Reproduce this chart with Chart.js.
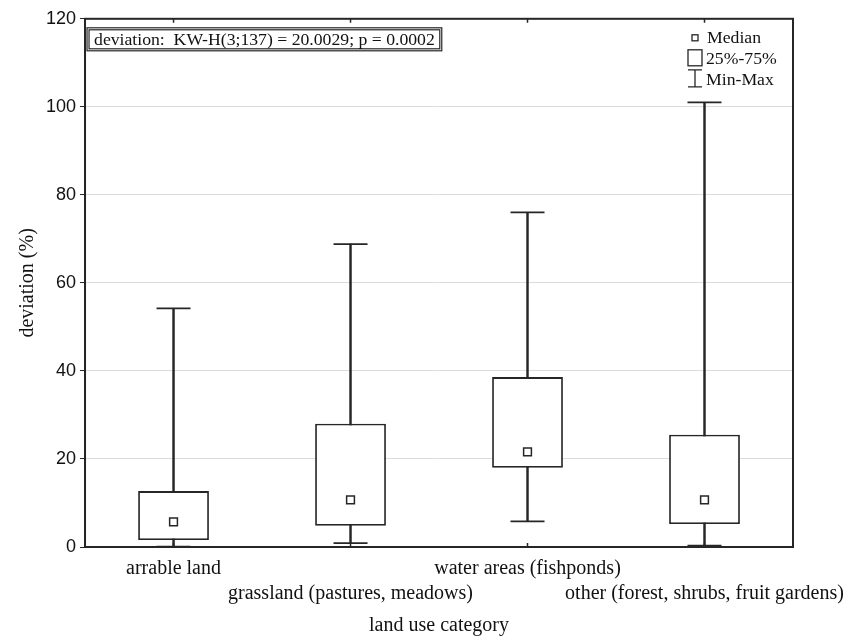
<!DOCTYPE html>
<html>
<head>
<meta charset="utf-8">
<script src="https://cdn.jsdelivr.net/npm/chart.js@4"></script>
<style>
  body { margin: 0; background: #fff; }
</style>
</head>
<body>
<canvas id="boxChart" width="848" height="638"></canvas>
<script>
// categories (odd ones dropped to a second line like in the original)
var categories = ['arrable land', 'grassland (pastures, meadows)', 'water areas (fishponds)', 'other (forest, shrubs, fruit gardens)'];
var minValues = [0.1, 0.9, 5.8, 0.3];
var q1Values = [1.6, 4.8, 18.0, 5.2];
var medianValues = [5.7, 10.7, 21.6, 10.7];
var q3Values = [12.7, 28.0, 38.6, 25.5];
var maxValues = [54.2, 68.8, 76.0, 101.0];
var yTicks = [0, 20, 40, 60, 80, 100, 120];

var statText = 'deviation:  KW-H(3;137) = 20.0029; p = 0.0002';

var labels = categories.map(function(c, i) {
    return i % 2 === 0 ? [c] : ['', c];
});

var ink = '#262626';

// frame, stats box and legend
var extras = {
    id: 'extras',
    afterDatasetsDraw: function(chart) {
        var ctx = chart.ctx;
        var a = chart.chartArea;
        ctx.save();
        ctx.strokeStyle = ink;
        ctx.lineWidth = 2;
        ctx.strokeRect(a.left, a.top, a.right - a.left, a.bottom - a.top);

        // tick marks on the top and bottom border
        var xs = chart.scales.x;
        ctx.lineWidth = 1.5;
        for (var i = 0; i < categories.length; i++) {
            var px = xs.getPixelForValue(i);
            ctx.beginPath();
            ctx.moveTo(px, a.top);
            ctx.lineTo(px, a.top + 4);
            ctx.moveTo(px, a.bottom);
            ctx.lineTo(px, a.bottom - 4);
            ctx.stroke();
        }

        // stats box
        ctx.font = '17.7px "Liberation Serif"';
        var tw = ctx.measureText(statText).width;
        var bx = a.left + 2, by = a.top + 9;
        ctx.fillStyle = '#fff';
        ctx.fillRect(bx, by, tw + 14, 23);
        ctx.lineWidth = 1.2;
        ctx.strokeRect(bx, by, tw + 14, 23);
        ctx.strokeRect(bx + 2, by + 2, tw + 10, 19);
        ctx.fillStyle = '#111';
        ctx.textBaseline = 'middle';
        ctx.fillText(statText, bx + 7, by + 12.5);

        // legend
        var lx = a.right - 98;
        ctx.lineWidth = 1.3;
        ctx.strokeRect(lx - 3, a.top + 16, 6, 6);
        ctx.strokeRect(lx - 7, a.top + 31, 14, 16);
        ctx.beginPath();
        ctx.moveTo(lx - 7, a.top + 51); ctx.lineTo(lx + 7, a.top + 51);
        ctx.moveTo(lx, a.top + 51); ctx.lineTo(lx, a.top + 68);
        ctx.moveTo(lx - 7, a.top + 68); ctx.lineTo(lx + 7, a.top + 68);
        ctx.stroke();
        ctx.fillText('Median', lx + 12, a.top + 20);
        ctx.fillText('25%-75%', lx + 11, a.top + 41);
        ctx.fillText('Min-Max', lx + 11, a.top + 62);
        ctx.restore();
    }
};

var ctx = document.getElementById('boxChart').getContext('2d');
new Chart(ctx, {
    data: {
        labels: labels,
        datasets: [
            {
                type: 'line',
                label: 'Median',
                data: medianValues,
                showLine: false,
                pointStyle: 'rect',
                pointRadius: 5.5,
                pointBorderWidth: 1.5,
                pointBackgroundColor: '#fff',
                pointBorderColor: ink,
                order: 0
            },
            {
                type: 'bar',
                label: '25%-75%',
                data: q1Values.map(function(v, i) { return [v, q3Values[i]]; }),
                backgroundColor: '#fff',
                borderColor: ink,
                borderWidth: 1.8,
                borderSkipped: false,
                grouped: false,
                categoryPercentage: 1,
                barPercentage: 0.4,
                order: 1
            },
            {
                type: 'bar',
                label: 'whisker',
                data: minValues.map(function(v, i) { return [v, maxValues[i]]; }),
                backgroundColor: ink,
                barThickness: 1.8,
                grouped: false,
                order: 2
            },
            {
                type: 'line',
                label: 'Min',
                data: minValues,
                showLine: false,
                pointStyle: 'line',
                pointRadius: 17,
                pointBorderWidth: 1.8,
                pointBorderColor: ink,
                order: 3
            },
            {
                type: 'line',
                label: 'Max',
                data: maxValues,
                showLine: false,
                pointStyle: 'line',
                pointRadius: 17,
                pointBorderWidth: 1.8,
                pointBorderColor: ink,
                order: 3
            }
        ]
    },
    options: {
        responsive: false,
        animation: false,
        events: [],
        layout: { padding: { top: 14, right: 55, left: 16, bottom: 0 } },
        plugins: {
            legend: { display: false },
            tooltip: { enabled: false }
        },
        scales: {
            x: {
                offset: true,
                afterFit: function(scale) {
                    // labels may hang past the plot edge, as in the original
                    scale.paddingLeft = 0;
                    scale.paddingRight = 0;
                },
                grid: { display: false },
                border: { display: true, color: ink, width: 2 },
                ticks: {
                    autoSkip: false,
                    maxRotation: 0,
                    minRotation: 0,
                    padding: 1,
                    color: '#111',
                    font: { family: 'Liberation Serif', size: 20, lineHeight: 1.25 }
                },
                title: {
                    display: true,
                    text: 'land use category',
                    color: '#111',
                    font: { family: 'Liberation Serif', size: 20 },
                    padding: { top: 7, bottom: 0 }
                }
            },
            y: {
                min: 0,
                max: 120,
                afterBuildTicks: function(axis) {
                    axis.ticks = yTicks.map(function(v) { return { value: v }; });
                },
                grid: {
                    color: '#dcdcdc',
                    lineWidth: 1,
                    tickColor: ink,
                    tickLength: 5
                },
                border: { display: true, color: ink, width: 2 },
                ticks: {
                    color: '#111',
                    padding: 4,
                    font: { family: 'Liberation Sans', size: 18 }
                },
                title: {
                    display: true,
                    text: 'deviation (%)',
                    color: '#111',
                    font: { family: 'Liberation Serif', size: 20 },
                    padding: { top: 0, bottom: 2 }
                }
            }
        }
    },
    plugins: [extras]
});
</script>
</body>
</html>
